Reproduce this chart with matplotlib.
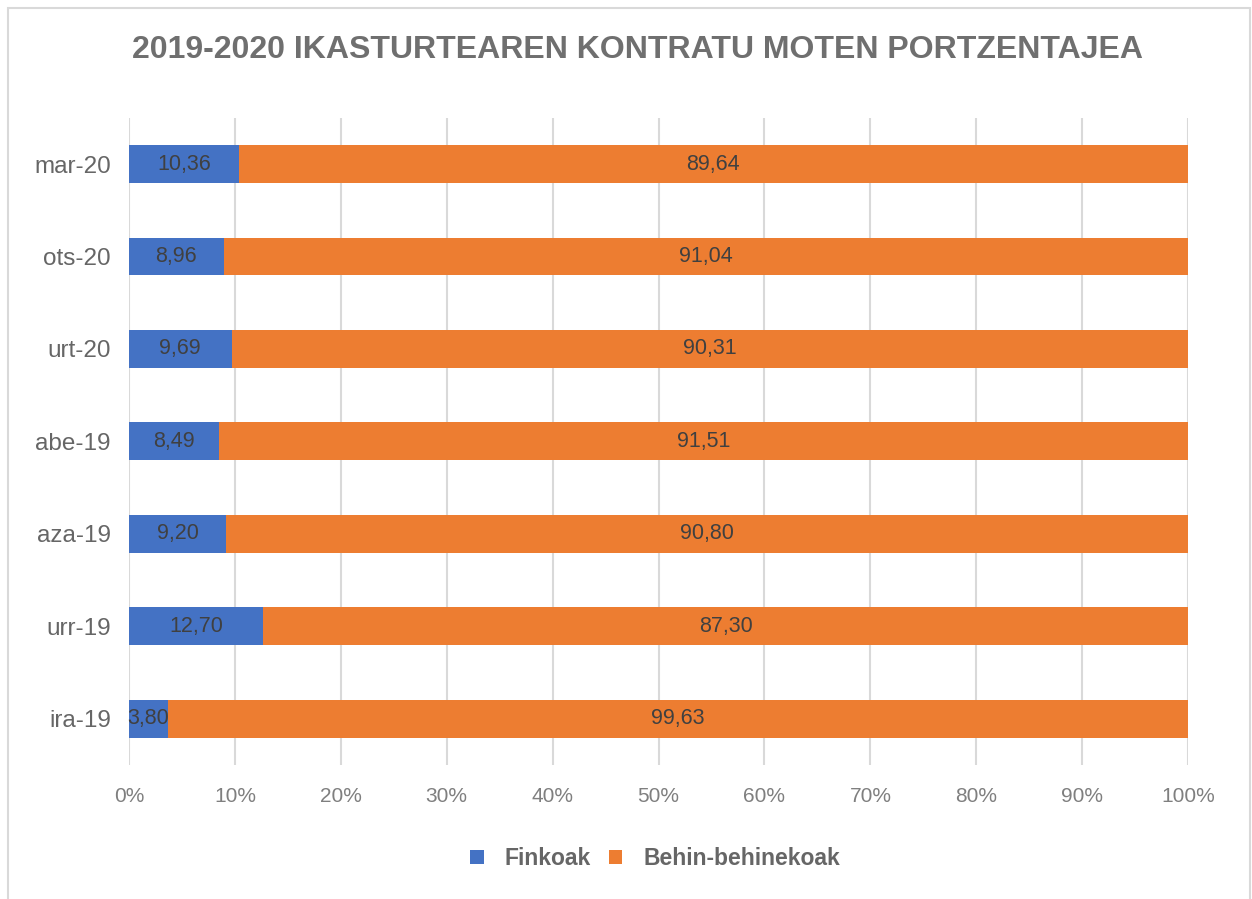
import matplotlib
matplotlib.use("Agg")
import matplotlib.pyplot as plt
from matplotlib.patches import Rectangle
import numpy as np

plt.rcParams['font.family'] = ['Liberation Sans', 'DejaVu Sans']

categories = ["ira-19", "urr-19", "aza-19", "abe-19", "urt-20", "ots-20", "mar-20"]
finkoak = [3.80, 12.70, 9.20, 8.49, 9.69, 8.96, 10.36]
behin = [99.63, 87.30, 90.80, 91.51, 90.31, 91.04, 89.64]
series_names = ["Finkoak", "Behin-behinekoak"]
title = "2019-2020 IKASTURTEAREN KONTRATU MOTEN PORTZENTAJEA"

blue = "#4472C4"
orange = "#ED7D31"

fig = plt.figure(figsize=(12.52, 8.99), dpi=100)
# outer frame
fig.patches.append(Rectangle((0.0064, -0.01), 0.992, 1.001, transform=fig.transFigure,
                             fill=False, edgecolor="#d9d9d9", linewidth=1.5))
ax = fig.add_axes([0.103, 0.149, 0.846, 0.72])

f = np.array(finkoak)
b = np.array(behin)
tot = f + b
fp = f / tot * 100
bp = b / tot * 100
y = np.arange(len(categories))
h = 0.41
ax.barh(y, fp, height=h, color=blue, zorder=3, label=series_names[0])
ax.barh(y, bp, left=fp, height=h, color=orange, zorder=3, label=series_names[1])

def fmt(v):
    return f"{v:.2f}".replace(".", ",")

for i in range(len(categories)):
    ax.text(fp[i] / 2, y[i], fmt(f[i]), ha="center", va="center", fontsize=15.5,
            color="#404040", zorder=4)
    ax.text(fp[i] + bp[i] / 2, y[i], fmt(b[i]), ha="center", va="center", fontsize=15.5,
            color="#404040", zorder=4)

ax.set_xlim(0, 100)
ax.set_ylim(-0.5, 6.5)
ax.set_xticks(np.arange(0, 101, 10))
ax.set_xticklabels([f"{v}%" for v in range(0, 101, 10)], fontsize=15, color="#7f7f7f")
ax.set_yticks(y)
ax.set_yticklabels(categories, fontsize=17.5, color="#666666")
ax.tick_params(axis="x", length=0, pad=16)
ax.tick_params(axis="y", length=0, pad=13)
ax.grid(axis="x", color="#d9d9d9", linewidth=1.5, zorder=0)
for s in ax.spines.values():
    s.set_visible(False)

fig.text(0.509, 0.944, title, ha="center", va="center", fontsize=23, fontweight="bold",
         color="#6f6f6f")

leg = fig.legend(loc="center", bbox_to_anchor=(0.523, 0.045), ncol=2, frameon=False,
                 prop={"size": 16.5, "weight": "bold"}, handlelength=0.6, handleheight=0.6,
                 columnspacing=0.8, handletextpad=0.9)
for t in leg.get_texts():
    t.set_color("#666666")

fig.savefig("out.png", dpi=100)
